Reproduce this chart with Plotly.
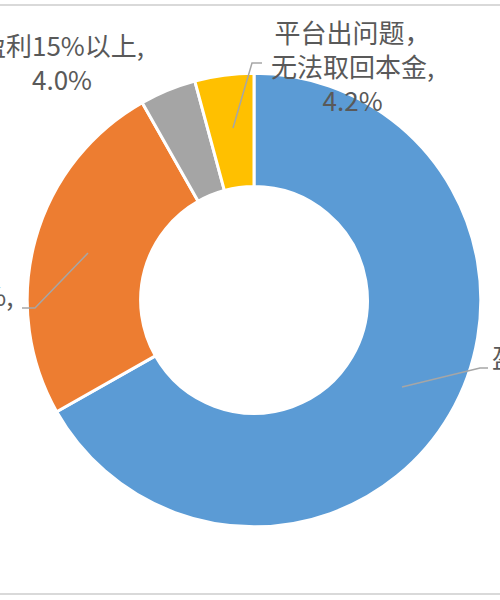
import plotly.graph_objects as go

# slice data, clockwise from 12 o'clock
categories = ["盈利0-15%", "亏损0-15%", "盈利15%以上", "平台出问题，<br>无法取回本金"]
shares = [66.8, 25.0, 4.0, 4.2]
colors = ["#5B9BD5", "#ED7D31", "#A5A5A5", "#FFC000"]

W, H = 500, 600
TEXT_COLOR = "#595959"
LEADER_COLOR = "#A6A6A6"
FONT = "Noto Sans CJK SC"


def px(x, y):
    # pixel position -> paper coordinates
    return x / W, 1 - y / H


def leader(points):
    coords = [px(x, y) for x, y in points]
    path = "M " + " L ".join(f"{x:.4f},{y:.4f}" for x, y in coords)
    return dict(type="path", xref="paper", yref="paper", path=path,
                line=dict(color=LEADER_COLOR, width=1.5))


fig = go.Figure(
    go.Pie(
        labels=categories,
        values=shares,
        hole=0.5,
        sort=False,
        direction="clockwise",
        rotation=0,
        marker=dict(colors=colors, line=dict(color="white", width=3)),
        textinfo="none",
        hoverinfo="label+percent",
        domain=dict(x=[0.054, 0.962], y=[0.122, 0.878]),
    )
)

label_text = [f"{c},<br>{v:.1f}%" for c, v in zip(categories, shares)]

# label placement (pixels): x, y, xanchor
label_pos = [
    (490, 373, "left"),
    (16, 311, "right"),
    (62, 62, "center"),
    (352, 65, "center"),
]

annotations = []
for text, (x, y, anchor) in zip(label_text, label_pos):
    ax, ay = px(x, y)
    annotations.append(dict(
        x=ax, y=ay, xref="paper", yref="paper", text=text, showarrow=False,
        xanchor=anchor, yanchor="middle", align="center",
        font=dict(family=FONT, size=26, color=TEXT_COLOR),
    ))

shapes = [
    leader([(402, 387), (480, 368), (488, 368)]),
    leader([(88, 253), (35, 308), (22, 308)]),
    leader([(233, 128), (252, 63), (262, 63)]),
    # chart frame lines
    dict(type="line", xref="paper", yref="paper", x0=0, x1=1, y0=1 - 5 / H, y1=1 - 5 / H,
         line=dict(color="#D9D9D9", width=2)),
    dict(type="line", xref="paper", yref="paper", x0=0, x1=1, y0=1 - 594 / H, y1=1 - 594 / H,
         line=dict(color="#D9D9D9", width=2)),
]

fig.update_layout(
    width=W,
    height=H,
    margin=dict(l=0, r=0, t=0, b=0),
    paper_bgcolor="white",
    plot_bgcolor="white",
    showlegend=False,
    annotations=annotations,
    shapes=shapes,
    font=dict(family=FONT, color=TEXT_COLOR),
)

# drop the default page margin so the figure sits at the window's top-left corner
fig.write_html(
    "out.html",
    config={"displayModeBar": False},
    post_script="document.body.style.margin = '0';",
)
